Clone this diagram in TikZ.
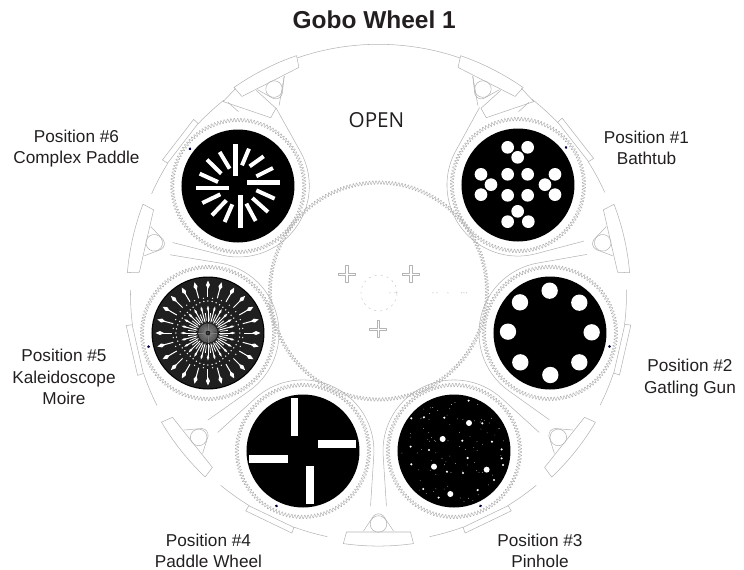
\documentclass[tikz,border=0pt]{standalone}
\usepackage{fontspec}
\setmainfont{Liberation Sans}
\newfontfamily\openfont{Open Sans}
\definecolor{wl}{HTML}{B4B4B4}
\definecolor{gearc}{HTML}{B0B0B0}
\definecolor{txt}{HTML}{231F20}
\tikzset{
  ln/.style={draw=wl,line width=.4pt,line join=round},
  geark/.style={draw=gearc,line width=.36pt,line join=round},
  lab/.style={font=\fontsize{12.9}{15.9}\selectfont,text=txt,align=center,inner sep=0pt},
  wbar/.style={fill=white,draw=none}
}
\newcommand{\clipunit}[1]{%
  \draw[ln] (-32,238)--(-35,249.6) arc[start angle=98,end angle=82,radius=252]--(32,238)--cycle;
  \draw[ln] (0,230) circle[radius=8.3];
  \draw[ln] (-15,237)--(-5,222) .. controls (-2,219) and (2,219) .. (5,222)--(15,237);
  \foreach \s in {#1}{
    \draw[ln] (\s*34,248)--(\s*51,242)--(\s*16,206)--(\s*7,212)--(\s*16.5,237);
    \draw[ln] (\s*42,226)--(\s*47,239);
  }
}
\begin{document}
\begin{tikzpicture}[x=.75pt,y=.75pt]
\useasboundingbox (-378.5,-275) rectangle (365.5,294);
% outer rim on the open side
\draw[ln] (71:249.7) arc[start angle=71,end angle=109,radius=249.7];
% clips between positions
\foreach \b/\sl in {27/{1},77.14/{-1,1},128.57/{-1,1},180/{-1,1},231.43/{-1,1},282.86/{-1,1},333/{-1}}{
  \begin{scope}[rotate=-\b]
    \clipunit{\sl}
  \end{scope}
}
\begin{scope}[rotate=-27]\draw[ln] (-15,237)--(3,213);\end{scope}
\begin{scope}[rotate=-333]\draw[ln] (15,237)--(-3,213);\end{scope}
% gears, housings and rim per position
\foreach \b/\r in {52/177,102.8/175.9,154.3/174.2,205.7/174.2,257.1/174.9,307.6/177}{
  \begin{scope}[rotate=-\b]
    \draw[geark] plot[samples=751,domain=0:750,variable=\k]
      ({(66+2*sin(60*mod(round(\k),6)))*cos(.48*\k)},{\r+(66+2*sin(60*mod(round(\k),6)))*sin(.48*\k)})--cycle;
    \draw[ln] (84.8,194.5)--(65.9,\r-26.5) arc[start angle=-21.9,end angle=-158.1,radius=71]--(-84.8,194.5);
    \draw[ln] (76.2:248) arc[start angle=76.2,end angle=84.3,radius=248];
    \draw[ln] (95.7:248) arc[start angle=95.7,end angle=103.8,radius=248];
    \draw[ln] (-25,247)--(-25.6,253)--(25.6,253)--(25,247)--cycle;
    \fill[black!75!blue] (0,\r+61) circle[radius=1.5];
  \end{scope}
}
% central gear
\draw[geark] plot[samples=1261,domain=0:1260,variable=\k]
  ({(108.5+2*sin(60*mod(round(\k),6)))*cos(.285714*\k)},{3+(108.5+2*sin(60*mod(round(\k),6)))*sin(.285714*\k)})--cycle;
% crosses and dotted marks
\foreach \cx/\cy in {-31.8/20,32.2/20,-.5/-35}{
  \begin{scope}[shift={(\cx,\cy)}]
    \draw[ln,line width=.4pt] (-1.2,8.5)--(1.2,8.5)--(1.2,1.2)--(8.5,1.2)--(8.5,-1.2)--(1.2,-1.2)--(1.2,-8.5)--(-1.2,-8.5)--(-1.2,-1.2)--(-8.5,-1.2)--(-8.5,1.2)--(-1.2,1.2)--cycle;
  \end{scope}
}
\draw[wl!70,line width=.4pt,dash pattern=on 1.5pt off 3.1pt] (.5,1) circle[radius=18];
\foreach \px in {11.5,16.5,18.2,54.5,58.5,69.5,83.2,85.5,88.2}{
  \fill[wl] (\px,1.2) circle[radius=.55];
}
% ---- position 1: bathtub
\fill[black] (139.5,109) coordinate (g1) circle[radius=56.5];
\begin{scope}[shift={(g1)},x=.25pt,y=-.25pt,shift={(-189,-195)}]
  \foreach \px/\py in {158/82,218/82,188/112,78/163,108/194,78/224,158/163,218/163,158/226,218/226,300/163,270/194,300/224,188/274,158/305,220/305}{
    \fill[white] (\px,\py) circle[radius=19];
  }
\end{scope}
% ---- position 2: gatling gun
\fill[black] (171.5,-39) coordinate (g2) circle[radius=56.5];
\begin{scope}[shift={(g2)},x=.25pt,y=-.25pt,shift={(-540,-280)}]
  \foreach \px/\py in {539/153,628/189,665/278,628/368,541/406,451/368,414/276,450/188}{
    \fill[white] (\px,\py) circle[radius=24.5];
  }
\end{scope}
% ---- position 3: pinhole
\fill[black] (75.5,-157) coordinate (g3) circle[radius=56.5];
\begin{scope}[shift={(g3)},x=.25pt,y=-.25pt,shift={(-192,-183)}]
  \foreach \px/\py in {237/99,158/147,132/230,290/239,181/312}{
    \fill[white] (\px,\py) circle[radius=9];
  }
  \foreach \px/\py in {236/32,64/85,102/82,163/83,277/100,217/152,306/155,62/170,117/180,335/178,233/204,64/223,171/245,219/249,339/225,312/270,100/297,263/300,146/323,335/205}{
    \fill[white] (\px,\py) circle[radius=3.5];
  }
\end{scope}
\begin{scope}[shift={(g3)}]
  \pgfmathsetseed{7}
  \foreach \i in {1,...,85}{
    \pgfmathsetmacro\ra{360*rnd}
    \pgfmathsetmacro\rr{53*sqrt(rnd)}
    \fill[white] (\ra:\rr) circle[radius=.36];
  }
\end{scope}
% ---- position 4: paddle wheel
\fill[black] (-75.5,-157) coordinate (g4) circle[radius=56.5];
\begin{scope}[shift={(g4)},x=.25pt,y=-.25pt,shift={(-519,-633)}]
  \fill[wbar] (482,475) rectangle (505,588);
  \fill[wbar] (563,600) rectangle (678,624);
  \fill[wbar] (358,646) rectangle (474,670);
  \fill[wbar] (528,679) rectangle (552,793);
\end{scope}
% ---- position 5: kaleidoscope moire
\fill[black] (-170.5,-39) coordinate (g5) circle[radius=56.5];
\fill[black!88] (g5) circle[radius=55.3];
\begin{scope}[shift={(g5)}]
  \foreach \a in {0,15,...,345}{
    \begin{scope}[rotate=\a]
      \draw[white,line width=.75pt] (36,0)--(46,0);
      \fill[white] (44,0)--(48,2)--(52.5,0)--(48,-2)--cycle;
      \draw[white,line width=.7pt] (11,0)--(24,0);
      \fill[white] (21.5,0)--(24.5,1.1)--(27.5,0)--(24.5,-1.1)--cycle;
    \end{scope}
  }
  \foreach \a in {0,7.5,...,352.5}{
    \fill[white] (\a:{30.5+1.5*cos(4*\a)}) circle[radius=.75];
    \draw[gray,line width=.2pt] (\a:2.5)--(\a:9.5);
    \draw[gray,line width=.2pt] (\a+3.75:2.5)--(\a+3.75:9.5);
  }
  \foreach \a in {7.5,22.5,...,352.5}{
    \draw[white,line width=.6pt] (\a:12.5)--(\a:20);
    \fill[white] (\a:35) circle[radius=.7];
  }
  \fill[black!70] (0,0) circle[radius=1];
\end{scope}
% ---- position 6: complex paddle
\fill[black] (-140.5,108) coordinate (g6) circle[radius=56.5];
\begin{scope}[shift={(g6)},x=.25pt,y=-.25pt,shift={(-325,-467)}]
  \fill[wbar] (310,340) rectangle (325,438);
  \fill[wbar] (352,450) rectangle (450,465);
  \fill[wbar] (198,466) rectangle (298,480);
  \fill[wbar] (325,495) rectangle (340,592);
  \foreach \pa/\pb/\pc/\pd in {337/405/358/355,360/408/402/378,380/438/430/413,380/480/435/505,368/503/415/545,350/520/378/572,308/522/285/575,290/510/247/555,272/492/218/518,265/455/210/430,275/430/232/388,300/415/270/365}{
    \draw[white,line width=3pt] (\pa,\pb)--(\pc,\pd);
  }
\end{scope}
% texts
\node[inner sep=0pt,font=\bfseries\fontsize{18.35}{20}\selectfont,text=txt] (title) at (-4.3,274.5) {Gobo Wheel 1};
\node[inner sep=0pt,font=\openfont\fontsize{15.5}{18}\selectfont,text=txt] (open) at (-2,174) {OPEN};
\node[lab] (p6) at (-302,145.5) {Position \#6\\Complex Paddle};
\node[lab] (p1) at (268,146) {Position \#1\\Bathtub};
\node[lab] (p2) at (311.5,-84) {Position \#2\\Gatling Gun};
\node[lab] (p3) at (161.5,-256.5) {Position \#3\\Pinhole};
\node[lab] (p4) at (-170,-256.5) {Position \#4\\Paddle Wheel};
\node[lab] (p5) at (-314.5,-83) {Position \#5\\Kaleidoscope\\Moire};
\end{tikzpicture}
\end{document}
